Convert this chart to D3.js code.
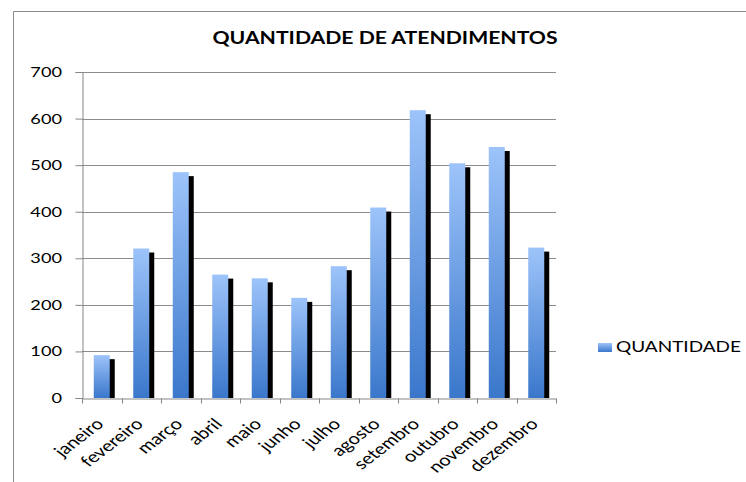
<!DOCTYPE html>
<html><head><meta charset="utf-8">
<script src="https://cdn.jsdelivr.net/npm/d3@7"></script>
<style>html,body{margin:0;padding:0;background:#fff;}svg{display:block;}</style>
</head><body>
<script>
const categories = ["janeiro","fevereiro","março","abril","maio","junho","julho","agosto","setembro","outubro","novembro","dezembro"];
const values = [92, 321, 485, 265, 257, 215, 283, 409, 618, 504, 539, 323];
const yTicks = [0,100,200,300,400,500,600,700];
const seriesName = "QUANTIDADE";
const titleText = "QUANTIDADE DE ATENDIMENTOS";

const W = 746, H = 482;
const SX = 1.3;
const font = "Lato, 'Open Sans', sans-serif";
const svg = d3.select("body").append("svg").attr("width", W).attr("height", H);

const defs = svg.append("defs");
const grad = defs.append("linearGradient").attr("id","g").attr("x1",0).attr("y1",0).attr("x2",0).attr("y2",1);
grad.append("stop").attr("offset","0%").attr("stop-color","#9dc4fa");
grad.append("stop").attr("offset","100%").attr("stop-color","#3a77cb");

// frame
svg.append("path").attr("d", `M13.5,${H} V11.5 H${W}`).attr("fill","none").attr("stroke","#8a8a8a").attr("stroke-width",1);

const x = d3.scaleBand().domain(categories).range([82, 556]).paddingInner(0).paddingOuter(0);
const y = d3.scaleLinear().domain([0,700]).range([398, 72]);

// gridlines
svg.append("g").selectAll("line").data(yTicks.filter(d=>d>0)).join("line")
  .attr("x1", 82).attr("x2", 556)
  .attr("y1", d=>Math.round(y(d))+0.5).attr("y2", d=>Math.round(y(d))+0.5)
  .attr("stroke","#8c8c8c").attr("stroke-width",1);

// y axis
const yAxis = svg.append("g").attr("transform","translate(82.5,0)")
  .call(d3.axisLeft(y).tickValues(yTicks).tickSize(7).tickPadding(0).tickFormat(d3.format("d")));
yAxis.select(".domain").attr("stroke","#868686");
yAxis.selectAll(".tick line").attr("stroke","#868686");
yAxis.selectAll(".tick text").remove();
svg.append("g").selectAll("text").data(yTicks).join("text")
  .attr("transform", d=>`translate(62,${y(d)+5}) scale(${SX},1)`)
  .attr("text-anchor","end").attr("font-family",font).attr("font-size",14).attr("fill","#000")
  .text(d=>d);

// x axis
const xAxis = svg.append("g").attr("transform","translate(0,398.5)")
  .call(d3.axisBottom(x).tickSize(0).tickFormat(""));
xAxis.select(".domain").attr("stroke","#868686");
const bounds = categories.map(c=>x(c)).concat([x.range()[1]]);
xAxis.selectAll(".bt").data(bounds).join("line").attr("class","bt")
  .attr("x1", d=>Math.round(d)+0.5).attr("x2", d=>Math.round(d)+0.5)
  .attr("y1",0).attr("y2",5).attr("stroke","#868686");

// labels
svg.append("g").selectAll("text").data(categories).join("text")
  .attr("transform", d=>`translate(${x(d)+x.bandwidth()/2+3},425) scale(${SX},1) rotate(-45)`)
  .attr("text-anchor","end").attr("font-family",font).attr("font-size",15.5).attr("fill","#000")
  .text(d=>d);

// bars
const bw = 16;
const bars = svg.append("g");
bars.selectAll(".sh").data(values).join("rect").attr("class","sh")
  .attr("x",(d,i)=>x(categories[i])+x.bandwidth()/2-bw/2+5)
  .attr("y",d=>y(d)+4).attr("width",bw).attr("height",d=>y(0)-y(d)-4)
  .attr("fill","#000");
bars.selectAll(".b").data(values).join("rect").attr("class","b")
  .attr("x",(d,i)=>x(categories[i])+x.bandwidth()/2-bw/2)
  .attr("y",d=>y(d)).attr("width",bw).attr("height",d=>y(0)-y(d))
  .attr("fill","url(#g)");

// title
svg.append("text").attr("transform",`translate(385,43.5) scale(${SX},1)`)
  .attr("text-anchor","middle").attr("font-family",font).attr("font-weight","bold")
  .attr("font-size",16.3).attr("fill","#000").text(titleText);

// legend
const lg = svg.append("g");
lg.append("rect").attr("x",598).attr("y",343).attr("width",14).attr("height",9).attr("fill","url(#g)");
lg.append("text").attr("transform",`translate(616,352) scale(${SX},1)`)
  .attr("font-family",font).attr("font-size",14.6).attr("fill","#000").text(seriesName);
</script>
</body></html>
